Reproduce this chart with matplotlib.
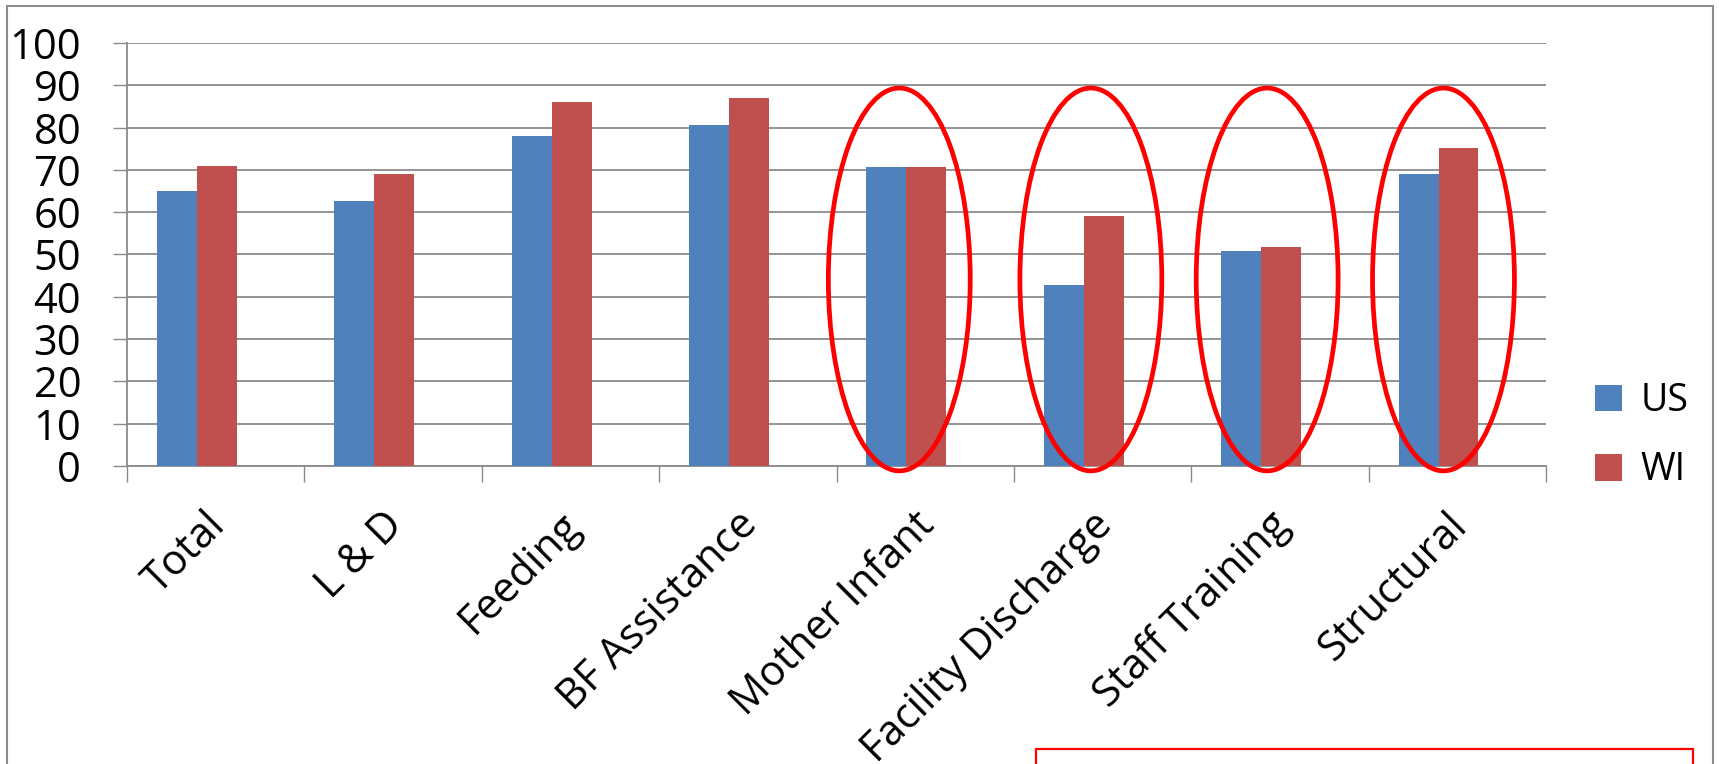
import numpy as np
import matplotlib
matplotlib.use("Agg")
import matplotlib.pyplot as plt
from matplotlib.patches import Ellipse, Rectangle

# Data
categories = ["Total", "L & D", "Feeding", "BF Assistance", "Mother Infant",
              "Facility Discharge", "Staff Training", "Structural"]
us_values = [65.0, 62.7, 77.9, 80.7, 70.8, 42.9, 50.9, 69.0]
wi_values = [70.9, 69.0, 86.0, 86.9, 70.8, 59.0, 51.8, 75.1]
series_names = ["US", "WI"]
highlighted = ["Mother Infant", "Facility Discharge", "Staff Training", "Structural"]
y_ticks = list(range(0, 101, 10))

# hand-drawn rings sit a little off each group's centre
ring_nudge = [-0.04, 0.04, 0.034, 0.028]

plt.rcParams['font.family'] = ['Open Sans', 'DejaVu Sans']

W, H, DPI = 1719, 764, 100
fig = plt.figure(figsize=(W / DPI, H / DPI), dpi=DPI)
fig.patch.set_facecolor("white")

left, right, top, bottom = 127, 1546, 43, 466
ax = fig.add_axes([left / W, 1 - bottom / H, (right - left) / W, (bottom - top) / H])

grid_col = "#8a8a8a"
blue = "#4F81BD"
red = "#C0504D"

n = len(categories)
x = np.arange(n)
bw = 0.225
# bars sit slightly left of each category slot
shift = 0.394
ax.bar(x - bw / 2, us_values, width=bw, color=blue, label=series_names[0], zorder=3)
ax.bar(x + bw / 2, wi_values, width=bw, color=red, label=series_names[1], zorder=3)

ax.set_xlim(-shift, n - shift)
ax.set_ylim(0, 100)
ax.set_yticks(y_ticks)
ax.yaxis.grid(True, color=grid_col, linewidth=1.3, zorder=0)
ax.set_axisbelow(True)

for s in ["top", "right"]:
    ax.spines[s].set_visible(False)
for s in ["left", "bottom"]:
    ax.spines[s].set_color(grid_col)
    ax.spines[s].set_linewidth(1.3)

ax.tick_params(axis="y", direction="out", length=10, width=1.0, color=grid_col,
               labelsize=30, pad=23, labelcolor="black")

# category slot boundaries as minor ticks; labels near slot centres
ax.set_xticks(np.arange(n + 1) - shift, minor=True)
ax.set_xticks(x - shift + 0.52)
ax.set_xticklabels(categories, rotation=45, ha="right", va="center",
                   rotation_mode="anchor", fontsize=30)
ax.tick_params(axis="x", which="major", length=0, pad=38)
ax.tick_params(axis="x", which="minor", direction="out", length=11.5, width=1.0,
               color=grid_col)

# red rings around the highlighted groups
for name, dx in zip(highlighted, ring_nudge):
    i = categories.index(name)
    e = Ellipse((i + dx, 44.1), width=0.80, height=90.5, fill=False,
                edgecolor="#FF0000", linewidth=3.4, zorder=5, clip_on=False)
    ax.add_patch(e)

leg = ax.legend(loc="upper left", bbox_to_anchor=(1595 / W, 1 - 382 / H),
                bbox_transform=fig.transFigure, frameon=False, fontsize=27,
                handlelength=0.72, handleheight=0.72, handletextpad=0.5,
                labelspacing=0.84, borderpad=0, borderaxespad=0)

# outer chart frame
fig.patches.append(Rectangle((7 / W, -0.05), (1713 - 7) / W, 1.05 - 6 / H,
                             transform=fig.transFigure, fill=False,
                             edgecolor="#8c8c8c", linewidth=1.5, zorder=0))
# red box at the lower right
fig.patches.append(Rectangle((1036 / W, -0.05), (1693 - 1036) / W, 0.05 + (H - 749) / H,
                             transform=fig.transFigure, fill=False,
                             edgecolor="#FF0000", linewidth=1.6, zorder=1))

fig.savefig("out.png", dpi=DPI)
